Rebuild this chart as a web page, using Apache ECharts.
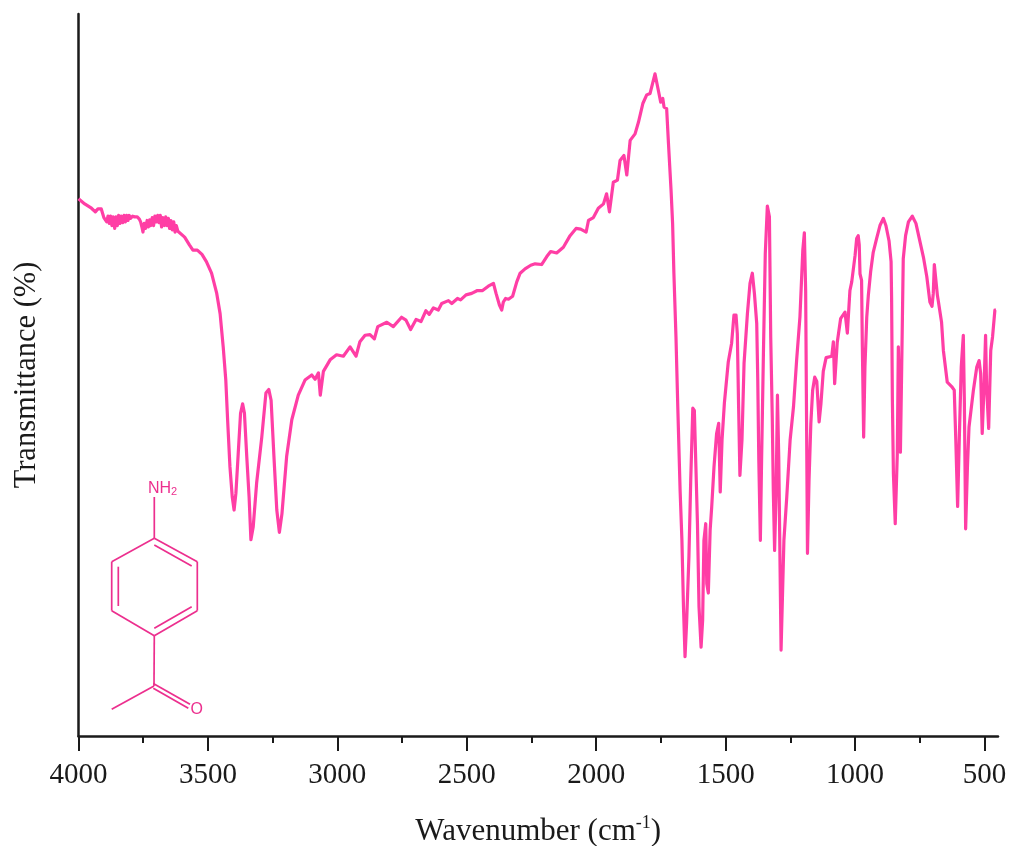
<!DOCTYPE html>
<html><head><meta charset="utf-8">
<style>html,body{margin:0;padding:0;background:#fff}#c{width:1010px;height:846px}</style>
<script src="https://cdn.jsdelivr.net/npm/echarts@6/dist/echarts.min.js"></script>
</head><body><div id="c"></div>
<script>
const wavenumbers = [4000,3996,3976,3950,3935,3925,3912,3902,3896,3891,3886,3881,3876,3871,3866,3860,3855,3850,3845,3840,3835,3829,3824,3819,3814,3809,3804,3799,3791,3783,3773,3765,3760,3755,3751,3746,3741,3735,3730,3725,3720,3715,3710,3705,3699,3694,3689,3684,3679,3674,3668,3663,3658,3653,3648,3643,3638,3632,3627,3622,3616,3590,3571,3558,3541,3523,3506,3486,3466,3453,3441,3431,3424,3415,3406,3399,3392,3383,3374,3366,3359,3350,3341,3334,3325,3312,3292,3276,3265,3256,3245,3234,3224,3214,3196,3176,3151,3125,3099,3086,3073,3066,3054,3028,3003,2977,2951,2928,2913,2893,2874,2857,2844,2809,2784,2752,2735,2717,2696,2677,2658,2645,2629,2610,2597,2571,2558,2536,2524,2503,2481,2459,2439,2417,2397,2387,2374,2365,2359,2350,2339,2323,2307,2294,2275,2253,2236,2211,2191,2176,2153,2127,2101,2078,2060,2039,2030,2011,1992,1972,1960,1949,1934,1918,1908,1893,1882,1869,1850,1837,1820,1805,1792,1773,1760,1751,1743,1738,1728,1721,1711,1705,1700,1692,1685,1676,1669,1663,1657,1651,1642,1635,1627,1621,1615,1609,1603,1595,1589,1584,1577,1573,1567,1560,1554,1545,1535,1527,1521,1514,1505,1490,1477,1468,1460,1455,1450,1445,1437,1429,1416,1406,1397,1389,1380,1376,1372,1366,1361,1354,1347,1339,1331,1326,1320,1316,1311,1305,1300,1295,1286,1280,1275,1264,1251,1238,1226,1213,1202,1196,1191,1184,1178,1171,1164,1156,1148,1139,1132,1123,1112,1090,1084,1079,1069,1056,1039,1030,1020,1013,1000,994,988,984,981,975,972,967,962,955,949,940,930,917,904,891,881,869,861,859,856,852,845,837,833,825,820,814,805,794,779,765,752,736,723,711,703,698,694,687,682,678,666,659,644,627,617,611,604,597,590,582,578,573,566,560,543,530,521,515,509,502,496,492,484,476,469,460,456];
const transmittance = [74.4,74.2,73.7,73.1,72.6,73.0,73.0,71.8,71.9,71.2,72.0,71.0,72.0,70.7,71.9,70.3,71.9,70.7,72.1,71.0,72.0,71.1,72.1,71.2,72.1,71.4,72.1,71.7,72.0,71.9,71.9,71.6,71.2,70.5,69.8,71.0,70.3,71.4,70.5,71.5,70.7,71.8,70.7,72.0,71.2,72.1,71.1,72.1,70.5,71.8,70.7,71.9,70.7,71.7,70.3,71.4,70.1,71.2,69.8,70.7,69.9,69.1,68.0,67.3,67.3,66.7,65.7,64.1,61.3,58.5,53.9,49.3,43.8,37.3,33.1,31.3,33.6,39.1,44.7,46.0,44.7,38.7,33.1,27.2,29.0,35.0,41.4,47.5,48.0,46.5,38.7,31.3,28.2,30.8,38.7,43.8,47.2,49.3,50.0,49.4,50.3,47.2,50.5,52.1,52.8,52.6,53.9,52.6,54.6,55.5,55.6,55.0,56.7,57.3,56.7,58.0,57.6,56.3,57.7,57.4,58.9,58.4,59.3,59.0,59.9,60.3,59.9,60.6,60.4,61.1,61.3,61.7,61.7,62.3,62.7,61.3,59.7,59.0,60.1,60.6,60.5,60.9,62.9,64.1,64.7,65.2,65.4,65.3,66.4,67.1,66.9,67.7,69.3,70.3,70.2,69.8,71.4,71.8,73.1,73.7,75.1,72.6,76.7,77.0,79.7,80.4,77.7,82.5,83.4,85.0,87.6,88.8,89.0,91.7,89.4,87.8,88.3,87.1,86.9,82.1,75.6,71.0,64.1,55.3,45.6,34.0,27.1,17.9,11.0,15.6,24.8,35.4,45.4,45.1,37.3,29.4,17.9,12.3,16.0,27.1,29.4,21.1,19.8,28.5,31.7,37.3,41.9,43.3,33.8,41.0,46.1,51.8,54.4,58.3,58.3,55.7,45.6,36.1,41.0,51.6,58.5,62.7,64.1,61.3,57.1,49.3,38.2,27.1,38.7,53.4,66.8,73.4,71.9,55.3,44.2,34.0,25.7,34.0,47.2,38.7,11.9,20.2,27.1,33.1,41.0,45.6,52.0,58.1,67.3,69.7,61.7,25.3,35.4,43.3,47.9,49.7,49.1,43.5,46.0,50.5,52.4,52.6,54.6,48.8,54.5,57.8,58.7,55.8,61.7,62.9,66.6,68.9,69.3,68.0,64.0,63.1,53.9,41.4,51.1,58.0,61.0,64.3,67.0,68.9,70.7,71.7,70.7,68.6,65.7,60.6,46.5,36.3,29.4,39.1,53.9,39.3,51.1,66.1,69.3,71.2,72.0,71.0,68.9,66.3,63.6,60.1,59.5,61.3,65.3,65.2,61.0,60.1,57.3,53.4,49.0,48.4,47.9,41.0,31.8,41.9,51.1,55.5,46.5,28.7,37.3,42.8,47.9,51.1,52.0,50.2,41.9,48.3,55.5,48.3,42.6,53.4,55.3,59.0,59.0];
const majorTicks = [4000,3500,3000,2500,2000,1500,1000,500];
const minorTicks = [3750,3250,2750,2250,1750,1250,750];
const xTitle = '{a|Wavenumber (cm}{s|-1}{a|)}';
const yTitle = 'Transmittance (%)';

const pink = '#FF3EA5', mol = '#EC2F8E', ink = '#1a1a1a';
const chart = echarts.init(document.getElementById('c'), null, {renderer:'canvas'});
const axisBase = {type:'value', inverse:true, min:448, max:4000, splitLine:{show:false}};
const line = (x1,y1,x2,y2) => ({type:'line', shape:{x1,y1,x2,y2}, style:{stroke:mol, lineWidth:1.7}, silent:true});
chart.setOption({
  animation:false,
  backgroundColor:'#fff',
  grid:{left:78.5, right:12, top:14, bottom:110, containLabel:false, outerBoundsMode:'none'},
  xAxis:[
    Object.assign({}, axisBase, {
      position:'bottom',
      axisLine:{show:true, lineStyle:{color:ink, width:2.5}},
      axisTick:{show:true, customValues:majorTicks, length:15, lineStyle:{color:ink, width:2}},
      axisLabel:{show:true, customValues:majorTicks, margin:25, color:ink, fontFamily:'Liberation Serif', fontSize:29, hideOverlap:false, formatter:(v)=>String(v)},
      name:xTitle, nameLocation:'middle', nameGap:78,
      nameTextStyle:{rich:{a:{fontFamily:'Liberation Serif', fontSize:31, color:ink}, s:{fontFamily:'Liberation Serif', fontSize:18, color:ink, verticalAlign:'top', lineHeight:36}}}
    }),
    Object.assign({}, axisBase, {
      position:'bottom',
      axisLine:{show:false},
      axisTick:{show:true, customValues:minorTicks, length:7, lineStyle:{color:ink, width:2}},
      axisLabel:{show:false}
    })
  ],
  yAxis:{type:'value', min:0, max:100, splitLine:{show:false},
    axisLine:{show:true, lineStyle:{color:ink, width:2.5}}, axisTick:{show:false}, axisLabel:{show:false},
    name:yTitle, nameLocation:'middle', nameGap:36, nameRotate:90,
    nameTextStyle:{fontFamily:'Liberation Serif', fontSize:30.5, color:ink}},
  series:[{type:'line', xAxisIndex:0, yAxisIndex:0, showSymbol:false, symbol:'none', smooth:false, clip:true,
    lineStyle:{color:pink, width:3.2, join:'round'},
    data:wavenumbers.map((w,i)=>[w,transmittance[i]])}],
  graphic:{elements:[
    line(154.3,497,154.3,538.3),
    line(154.3,538.3,197.3,561.7), line(197.3,561.7,197.3,610.7), line(197.3,610.7,154.3,635.7),
    line(154.3,635.7,111.7,610.7), line(111.7,610.7,111.7,561.7), line(111.7,561.7,154.3,538.3),
    line(154.3,545,191.7,566), line(118.3,566.7,118.3,606), line(191.7,606.7,154.3,628.3),
    line(154.3,635.7,154,686), line(154,686,111.7,709.3),
    line(153.3,683.5,190,704.3), line(153.3,688.3,188.3,708.3),
    {type:'text', x:148, y:480, silent:true, style:{text:'{n|NH}{s|2}', rich:{n:{fontFamily:'Liberation Sans', fontSize:16, fill:mol, color:mol}, s:{fontFamily:'Liberation Sans', fontSize:11, fill:mol, color:mol, padding:[6,0,0,0]}}, fill:mol}},
    {type:'text', x:190.5, y:702, silent:true, style:{text:'O', fontFamily:'Liberation Sans', fontSize:16, fill:mol}}
  ]}
});
</script></body></html>
